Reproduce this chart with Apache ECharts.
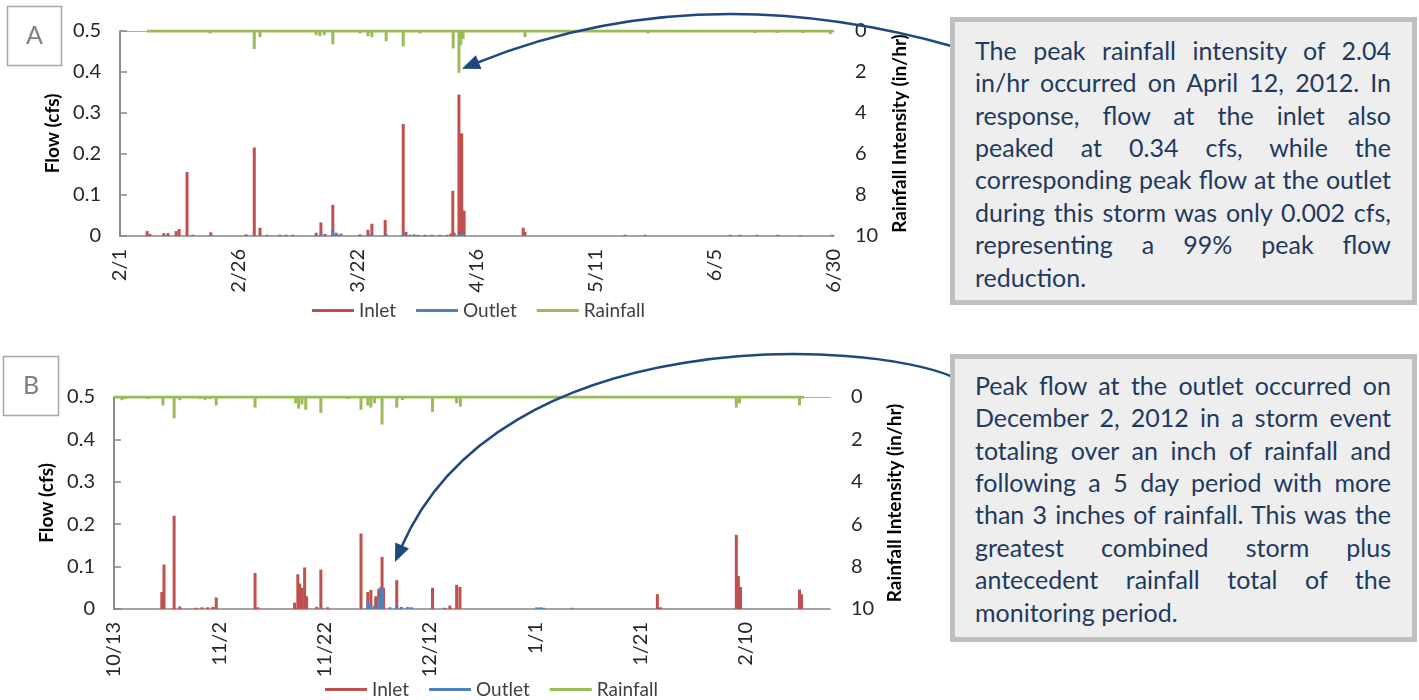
<!DOCTYPE html>
<html><head><meta charset="utf-8">
<script src="https://cdn.jsdelivr.net/npm/echarts@6/dist/echarts.min.js"></script>
<style>
html,body{margin:0;padding:0;background:#fff;}
#wrap{position:relative;width:1419px;height:700px;overflow:hidden;}
#chart{position:absolute;left:0;top:0;width:1419px;height:700px;}
.box{position:absolute;box-sizing:border-box;border:5px solid #BFBFBF;background:#EEEEEE;width:467px;height:288px;font-family:Lato,"Open Sans",sans-serif;color:#1F3A5F;font-size:25px;}
.ln{position:absolute;left:20px;width:416px;height:32.4px;line-height:32.4px;text-align:justify;text-align-last:justify;}
.ln.last{text-align-last:left;}
</style></head>
<body>
<div id="wrap">
<div id="chart"></div>
<div class="box" id="boxA" style="left:950px;top:17px;"></div>
<div class="box" id="boxB" style="left:950px;top:354px;"></div>
</div>
<script>
// ---------- data ----------
const startA = '2012-02-01 00:00';
const startB = '2012-10-13 00:00';
const xTicksA = ['2/1','2/26','3/22','4/16','5/11','6/5','6/30'];
const xTicksB = ['10/13','11/2','11/22','12/12','1/1','1/21','2/10'];

const inletA = [['2012-02-06 17:00',0.012],['2012-02-07 07:00',0.005],['2012-02-10 05:00',0.007],['2012-02-11 02:00',0.007],['2012-02-12 19:00',0.012],['2012-02-13 10:00',0.017],['2012-02-15 02:00',0.156],['2012-02-16 07:00',0.003],['2012-02-20 02:00',0.009],['2012-02-27 12:00',0.004],['2012-02-29 05:00',0.216],['2012-03-01 10:00',0.02],['2012-03-02 22:00',0.003],['2012-03-05 14:00',0.003],['2012-03-06 22:00',0.003],['2012-03-08 07:00',0.003],['2012-03-13 05:00',0.008],['2012-03-14 05:00',0.033],['2012-03-15 02:00',0.005],['2012-03-16 17:00',0.076],['2012-03-17 14:00',0.005],['2012-03-22 10:00',0.004],['2012-03-24 02:00',0.015],['2012-03-24 22:00',0.03],['2012-03-27 17:00',0.039],['2012-03-31 12:00',0.273],['2012-04-01 02:00',0.01],['2012-04-01 22:00',0.003],['2012-04-03 14:00',0.003],['2012-04-05 02:00',0.003],['2012-04-06 12:00',0.003],['2012-04-08 05:00',0.003],['2012-04-09 17:00',0.003],['2012-04-10 12:00',0.006],['2012-04-10 22:00',0.11],['2012-04-11 05:00',0.008],['2012-04-12 05:00',0.345],['2012-04-12 14:00',0.25],['2012-04-12 19:00',0.25],['2012-04-13 07:00',0.062],['2012-04-25 17:00',0.02],['2012-04-26 02:00',0.01],['2012-05-17 02:00',0.003],['2012-05-21 07:00',0.003],['2012-06-08 05:00',0.003],['2012-06-10 07:00',0.003],['2012-06-13 19:00',0.003],['2012-06-18 05:00',0.003],['2012-06-22 22:00',0.002],['2012-06-29 14:00',0.003]];
const outletA = [['2012-03-14 05:00',0.005],['2012-03-16 17:00',0.014],['2012-03-17 10:00',0.008],['2012-03-18 10:00',0.006],['2012-03-24 17:00',0.005],['2012-03-27 22:00',0.005],['2012-03-31 12:00',0.004],['2012-04-02 19:00',0.004],['2012-04-12 05:00',0.006],['2012-04-12 14:00',0.006],['2012-04-13 02:00',0.006]];
const rainA = [['2012-02-19 22:00',0.12],['2012-02-29 05:00',0.88],['2012-03-01 10:00',0.3],['2012-03-13 05:00',0.2],['2012-03-14 00:00',0.25],['2012-03-14 22:00',0.2],['2012-03-16 17:00',0.65],['2012-03-22 10:00',0.12],['2012-03-24 02:00',0.25],['2012-03-24 22:00',0.3],['2012-03-27 22:00',0.5],['2012-03-31 12:00',0.75],['2012-04-04 00:00',0.12],['2012-04-11 00:00',0.85],['2012-04-12 05:00',2.04],['2012-04-12 14:00',0.7],['2012-04-13 02:00',0.4],['2012-04-26 02:00',0.3],['2012-05-21 22:00',0.12],['2012-06-13 10:00',0.1],['2012-06-18 00:00',0.1],['2012-06-23 12:00',0.1],['2012-06-29 05:00',0.15]];
const rainSpanA = [['2012-02-06 16:00',0],['2012-06-29 22:00',0]];

const inletB = [['2012-10-22 02:00',0.04],['2012-10-22 12:00',0.105],['2012-10-24 10:00',0.22],['2012-10-25 12:00',0.006],['2012-10-28 14:00',0.003],['2012-10-29 17:00',0.004],['2012-10-30 19:00',0.004],['2012-10-31 19:00',0.005],['2012-11-01 10:00',0.027],['2012-11-08 19:00',0.085],['2012-11-09 07:00',0.004],['2012-11-16 07:00',0.015],['2012-11-16 22:00',0.082],['2012-11-17 07:00',0.06],['2012-11-17 17:00',0.05],['2012-11-18 05:00',0.098],['2012-11-18 14:00',0.03],['2012-11-20 12:00',0.005],['2012-11-21 07:00',0.093],['2012-11-22 14:00',0.004],['2012-11-28 22:00',0.178],['2012-11-30 05:00',0.04],['2012-11-30 19:00',0.045],['2012-12-01 17:00',0.03],['2012-12-02 07:00',0.048],['2012-12-02 22:00',0.123],['2012-12-03 05:00',0.05],['2012-12-05 17:00',0.068],['2012-12-12 12:00',0.05],['2012-12-14 19:00',0.003],['2012-12-15 19:00',0.008],['2012-12-17 02:00',0.057],['2012-12-17 17:00',0.052],['2013-01-24 05:00',0.035],['2013-01-24 19:00',0.004],['2013-02-08 05:00',0.175],['2013-02-08 14:00',0.078],['2013-02-09 00:00',0.052],['2013-02-20 05:00',0.046],['2013-02-20 14:00',0.035]];
const outletB = [['2012-11-21 12:00',0.003],['2012-11-30 05:00',0.016],['2012-11-30 19:00',0.01],['2012-12-01 12:00',0.008],['2012-12-02 07:00',0.03],['2012-12-02 17:00',0.052],['2012-12-03 00:00',0.045],['2012-12-04 10:00',0.004],['2012-12-05 17:00',0.008],['2012-12-06 14:00',0.005],['2012-12-07 19:00',0.005],['2012-12-08 12:00',0.004],['2013-01-01 07:00',0.004],['2013-01-02 00:00',0.004],['2013-01-02 14:00',0.003],['2013-01-08 02:00',0.003]];
const rainB = [['2012-10-14 12:00',0.15],['2012-10-15 02:00',0.1],['2012-10-19 12:00',0.1],['2012-10-22 07:00',0.4],['2012-10-24 10:00',1.0],['2012-10-25 12:00',0.15],['2012-10-29 07:00',0.1],['2012-10-30 07:00',0.15],['2012-10-31 05:00',0.1],['2012-11-01 10:00',0.4],['2012-11-08 19:00',0.5],['2012-11-16 12:00',0.3],['2012-11-17 02:00',0.55],['2012-11-17 17:00',0.35],['2012-11-18 10:00',0.6],['2012-11-21 07:00',0.75],['2012-11-26 10:00',0.1],['2012-11-28 22:00',0.6],['2012-11-30 05:00',0.4],['2012-11-30 19:00',0.5],['2012-12-01 12:00',0.3],['2012-12-02 22:00',1.3],['2012-12-05 17:00',0.5],['2012-12-06 19:00',0.15],['2012-12-12 12:00',0.7],['2012-12-17 02:00',0.3],['2012-12-17 19:00',0.45],['2013-02-08 05:00',0.5],['2013-02-08 19:00',0.3],['2013-02-20 05:00',0.4]];
const rainSpanB = [['2012-10-13 00:00',0],['2013-02-21 02:00',0]];

const noteA = ['The peak rainfall intensity of 2.04','in/hr occurred on April 12, 2012. In','response, flow at the inlet also','peaked at 0.34 cfs, while the','corresponding peak flow at the outlet','during this storm was only 0.002 cfs,','representing a 99% peak flow','reduction.'];
const noteB = ['Peak flow at the outlet occurred on','December 2, 2012 in a storm event','totaling over an inch of rainfall and','following a 5 day period with more','than 3 inches of rainfall. This was the','greatest combined storm plus','antecedent rainfall total of the','monitoring period.'];

// ---------- helpers ----------
const FONT = 'Lato, "Open Sans", sans-serif';
const RED = '#C0504D', BLUE = '#4F81BD', GREEN = '#9BBB59', AXIS = '#868686', NAVY = '#1F497D';
const ms = s => Date.parse(s.replace(' ', 'T') + ':00Z');
const toXY = (arr, start) => arr.map(([t, v]) => [(ms(t) - ms(start)) / 864e5, v]);

function fillNote(id, lines, padTop) {
  const el = document.getElementById(id);
  lines.forEach((t, i) => {
    const d = document.createElement('div');
    d.className = 'ln' + (i === lines.length - 1 ? ' last' : '');
    d.style.top = (padTop + i * 32.4) + 'px';
    d.textContent = t;
    el.appendChild(d);
  });
}
fillNote('boxA', noteA, 11.8);
fillNote('boxB', noteB, 9.8);

const tickLbl = {fontFamily: FONT, fontSize: 20, color: '#262626'};
const nameStyle = {fontFamily: FONT, fontSize: 19, fontWeight: 'bold', color: '#000'};

function xAxes(grid, max, interval, labels) {
  return [{
    type: 'value', gridIndex: grid, position: 'bottom', min: 0, max: max, interval: interval,
    axisLine: {show: true, lineStyle: {color: AXIS, width: 1.5}}, axisTick: {show: false}, splitLine: {show: false},
    axisLabel: Object.assign({rotate: 90, margin: 13, showMaxLabel: true,
      formatter: v => { const i = v / interval; return Number.isInteger(i) && labels[i] ? labels[i] : ''; }}, tickLbl)
  }, {
    type: 'value', gridIndex: grid, position: 'top', min: 0, max: max,
    axisLine: {show: true, onZero: false, lineStyle: {color: '#8EB4E3', width: 1}}, axisTick: {show: false},
    axisLabel: {show: false}, splitLine: {show: false}
  }];
}
function yAxes(grid, gapL, gapR) {
  return [{
    type: 'value', gridIndex: grid, position: 'left', min: 0, max: 0.5, interval: 0.1,
    name: 'Flow (cfs)', nameLocation: 'middle', nameGap: gapL, nameTextStyle: nameStyle,
    axisLine: {show: true, lineStyle: {color: AXIS, width: 1.5}}, axisTick: {show: false}, splitLine: {show: false},
    axisLabel: Object.assign({margin: 19}, tickLbl)
  }, {
    type: 'value', gridIndex: grid, position: 'right', min: 0, max: 10, interval: 2, inverse: true,
    name: 'Rainfall Intensity (in/hr)', nameLocation: 'middle', nameGap: gapR, nameTextStyle: nameStyle,
    axisLine: {show: true, lineStyle: {color: AXIS, width: 1.5}},
    axisTick: {show: true, inside: false, length: 7, lineStyle: {color: AXIS, width: 1.5}}, splitLine: {show: false},
    axisLabel: Object.assign({margin: 21}, tickLbl)
  }];
}
function barS(name, color, data, xi, yi) {
  return {name, type: 'bar', xAxisIndex: xi, yAxisIndex: yi, data, barWidth: 3, barGap: '-100%',
    itemStyle: {color}, silent: true, animation: false};
}
function spanS(data, xi, yi) {
  return {name: 'Rainfall', type: 'line', xAxisIndex: xi, yAxisIndex: yi, data, symbol: 'none',
    lineStyle: {color: GREEN, width: 3}, itemStyle: {color: GREEN}, silent: true, animation: false};
}
function legend(left, top) {
  return {left, top, icon: 'rect', itemWidth: 42, itemHeight: 3, itemGap: 20, selectedMode: false,
    data: ['Inlet', 'Outlet', 'Rainfall'], textStyle: {fontFamily: FONT, fontSize: 19, color: '#404040'}};
}

const dA = {inlet: toXY(inletA, startA), outlet: toXY(outletA, startA), rain: toXY(rainA, startA), span: toXY(rainSpanA, startA)};
const dB = {inlet: toXY(inletB, startB), outlet: toXY(outletB, startB), rain: toXY(rainB, startB), span: toXY(rainSpanB, startB)};

const option = {
  animation: false,
  grid: [{left: 120, top: 31, width: 714, height: 205}, {left: 114, top: 397, width: 716, height: 212}],
  xAxis: [...xAxes(0, 150, 25, xTicksA), ...xAxes(1, 136, 20, xTicksB)],
  yAxis: [...yAxes(0, 52, 56), ...yAxes(1, 49, 53)],
  legend: [legend(307, 296), legend(320, 675)],
  series: [
    barS('Inlet', RED, dA.inlet, 0, 0),
    barS('Outlet', BLUE, dA.outlet, 0, 0),
    spanS(dA.span, 0, 1),
    barS('Rainfall', GREEN, dA.rain, 0, 1),
    barS('Inlet', RED, dB.inlet, 2, 2),
    barS('Outlet', BLUE, dB.outlet, 2, 2),
    spanS(dB.span, 2, 3),
    barS('Rainfall', GREEN, dB.rain, 2, 3)
  ]
};

const chart = echarts.init(document.getElementById('chart'));
chart.setOption(option);

// ---------- annotations ----------
function arrow(p0, c1, c2, tip) {
  const ref = c2 || c1;
  let dx = tip[0] - ref[0], dy = tip[1] - ref[1];
  const len = Math.hypot(dx, dy); dx /= len; dy /= len;
  const L = 18, W = 15;
  const base = [tip[0] - dx * L, tip[1] - dy * L];
  const px = -dy, py = dx;
  const shape = {x1: p0[0], y1: p0[1], x2: base[0] + dx * 2, y2: base[1] + dy * 2, cpx1: c1[0], cpy1: c1[1]};
  if (c2) { shape.cpx2 = c2[0]; shape.cpy2 = c2[1]; }
  return [
    {type: 'bezierCurve', shape, style: {stroke: NAVY, lineWidth: 2.5, fill: 'none'}, z: 50, silent: true},
    {type: 'polygon', shape: {points: [tip, [base[0] + px * W / 2, base[1] + py * W / 2], [base[0] - px * W / 2, base[1] - py * W / 2]]},
      style: {fill: NAVY}, z: 50, silent: true}
  ];
}
const peakRainA = dA.rain.reduce((a, b) => b[1] > a[1] ? b : a);
const peakOutB = dB.outlet.reduce((a, b) => b[1] > a[1] ? b : a);
const tA = chart.convertToPixel({xAxisIndex: 0, yAxisIndex: 1}, peakRainA);
const tB = chart.convertToPixel({xAxisIndex: 2, yAxisIndex: 2}, peakOutB);
const tipA = [tA[0] + 3, tA[1] - 4];
const tipB = [tB[0] + 14, tB[1] - 25];

function labelBox(x, y, w, h, letter) {
  return [
    {type: 'rect', shape: {x, y, width: w, height: h}, style: {fill: '#fff', stroke: '#A6A6A6', lineWidth: 1.5}, silent: true},
    {type: 'text', x: x + w / 2, y: y + h / 2, style: {text: letter, fontFamily: FONT, fontSize: 25, fill: '#7F7F7F', align: 'center', verticalAlign: 'middle'}, silent: true}
  ];
}

chart.setOption({
  graphic: [
    ...labelBox(7.5, 6.5, 54, 59, 'A'),
    ...labelBox(3.5, 356.5, 55, 59, 'B'),
    ...arrow([955, 47], [698, -26], null, tipA),
    ...arrow([953, 377], [870, 340], [500, 320], tipB)
  ]
});
</script>
</body></html>
